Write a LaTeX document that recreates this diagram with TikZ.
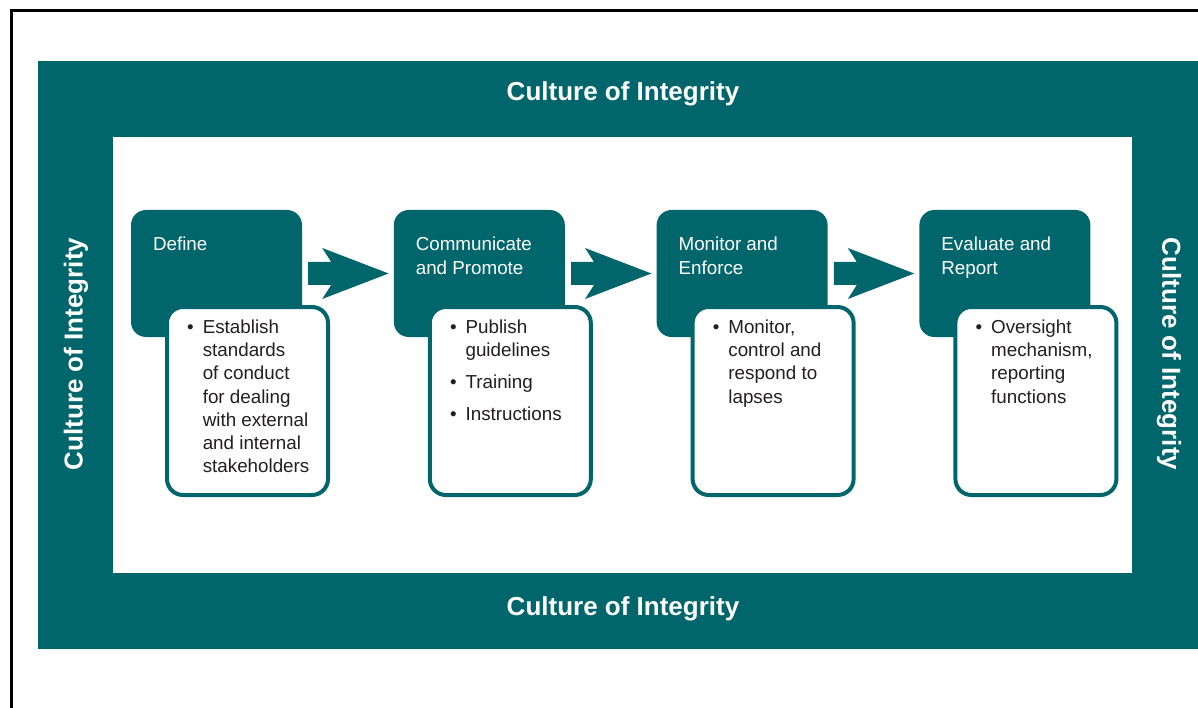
\documentclass[tikz,border=0pt]{standalone}
\usepackage{fontspec}
\setmainfont{Liberation Sans}
\usetikzlibrary{calc}
\definecolor{brandteal}{HTML}{00666B}
\definecolor{bodyink}{HTML}{231F20}
\tikzset{
  stagebox/.style={fill=brandteal, rounded corners=15pt, minimum width=171pt,
    minimum height=127pt, inner sep=0pt},
  detailbox/.style={draw=brandteal, fill=white, line width=4pt, rounded corners=16pt,
    minimum width=161pt, minimum height=188pt, inner sep=0pt},
  stagetext/.style={anchor=north west, inner sep=0pt, align=left, text=white,
    font=\fontsize{18.8}{24}\selectfont},
  detailtext/.style={anchor=north west, inner sep=0pt, text=bodyink,
    font=\fontsize{18.8}{23.3}\selectfont},
  titletext/.style={text=white, inner sep=0pt, font=\fontsize{26}{30}\selectfont\bfseries},
  flowarrow/.style={fill=brandteal},
}
\newcommand{\bulletlist}[1]{\begin{tabular}{@{}l@{\hspace{9pt}}l@{}}#1\end{tabular}}
\begin{document}
\begin{tikzpicture}[x=1pt,y=-1pt]
\useasboundingbox (0,0) rectangle (1198,708);
\fill[white] (0,0) rectangle (1198,708);

% outer frame
\draw[line width=3pt] (1198,11) -- (11,11) -- (11,708);

% culture band and inner field
\fill[brandteal] (38,61) rectangle (1198,649);
\fill[white] (113,137) rectangle (1132,573);

% band labels
\node[titletext] (ctop) at (623,94) {Culture of Integrity};
\node[titletext] (cbot) at (623,609) {Culture of Integrity};
\node[titletext, rotate=90] (cleft) at (76,354) {Culture of Integrity};
\node[titletext, rotate=-90] (cright) at (1169,354) {Culture of Integrity};

% stage headers
\node[stagebox] (s1) at (216.5,273.5) {};
\node[stagebox] (s2) at (479.3,273.5) {};
\node[stagebox] (s3) at (742.1,273.5) {};
\node[stagebox] (s4) at (1004.9,273.5) {};

% detail panels
\node[detailbox] (d1) at (247.5,401) {};
\node[detailbox] (d2) at (510.3,401) {};
\node[detailbox] (d3) at (773.1,401) {};
\node[detailbox] (d4) at (1035.9,401) {};

% stage titles
\node[stagetext] (t1) at ([xshift=22pt,yshift=-27pt]s1.north west) {Define};
\node[stagetext] (t2) at ([xshift=22pt,yshift=-27pt]s2.north west) {Communicate\\and Promote};
\node[stagetext] (t3) at ([xshift=22pt,yshift=-27pt]s3.north west) {Monitor and\\Enforce};
\node[stagetext] (t4) at ([xshift=22pt,yshift=-27pt]s4.north west) {Evaluate and\\Report};

% stage details
\node[detailtext] (b1) at ([xshift=22pt,yshift=-11.6pt]d1.north west) {\bulletlist{%
  \textbullet & Establish\\ & standards\\ & of conduct\\ & for dealing\\
  & with external\\ & and internal\\ & stakeholders}};
\node[detailtext] (b2) at ([xshift=22pt,yshift=-11.6pt]d2.north west) {\bulletlist{%
  \textbullet & Publish\\ & guidelines\\[8.7pt]
  \textbullet & Training\\[8.7pt]
  \textbullet & Instructions}};
\node[detailtext] (b3) at ([xshift=22pt,yshift=-11.6pt]d3.north west) {\bulletlist{%
  \textbullet & Monitor,\\ & control and\\ & respond to\\ & lapses}};
\node[detailtext] (b4) at ([xshift=22pt,yshift=-11.6pt]d4.north west) {\bulletlist{%
  \textbullet & Oversight\\ & mechanism,\\ & reporting\\ & functions}};

% flow arrows between stages
\foreach \a/\b in {s1/s2, s2/s3, s3/s4}{
  \fill[flowarrow] let \p1=([xshift=6pt]\a.east), \p2=([xshift=-5pt]\b.west) in
    (\x1,\y1-11.5pt) -- (\x1+23pt,\y1-11.5pt) -- (\x1+14pt,\y1-25.5pt) --
    (\x2,\y1) -- (\x1+14pt,\y1+25.5pt) -- (\x1+23pt,\y1+11.5pt) --
    (\x1,\y1+11.5pt) -- cycle;
}
\end{tikzpicture}
\end{document}
